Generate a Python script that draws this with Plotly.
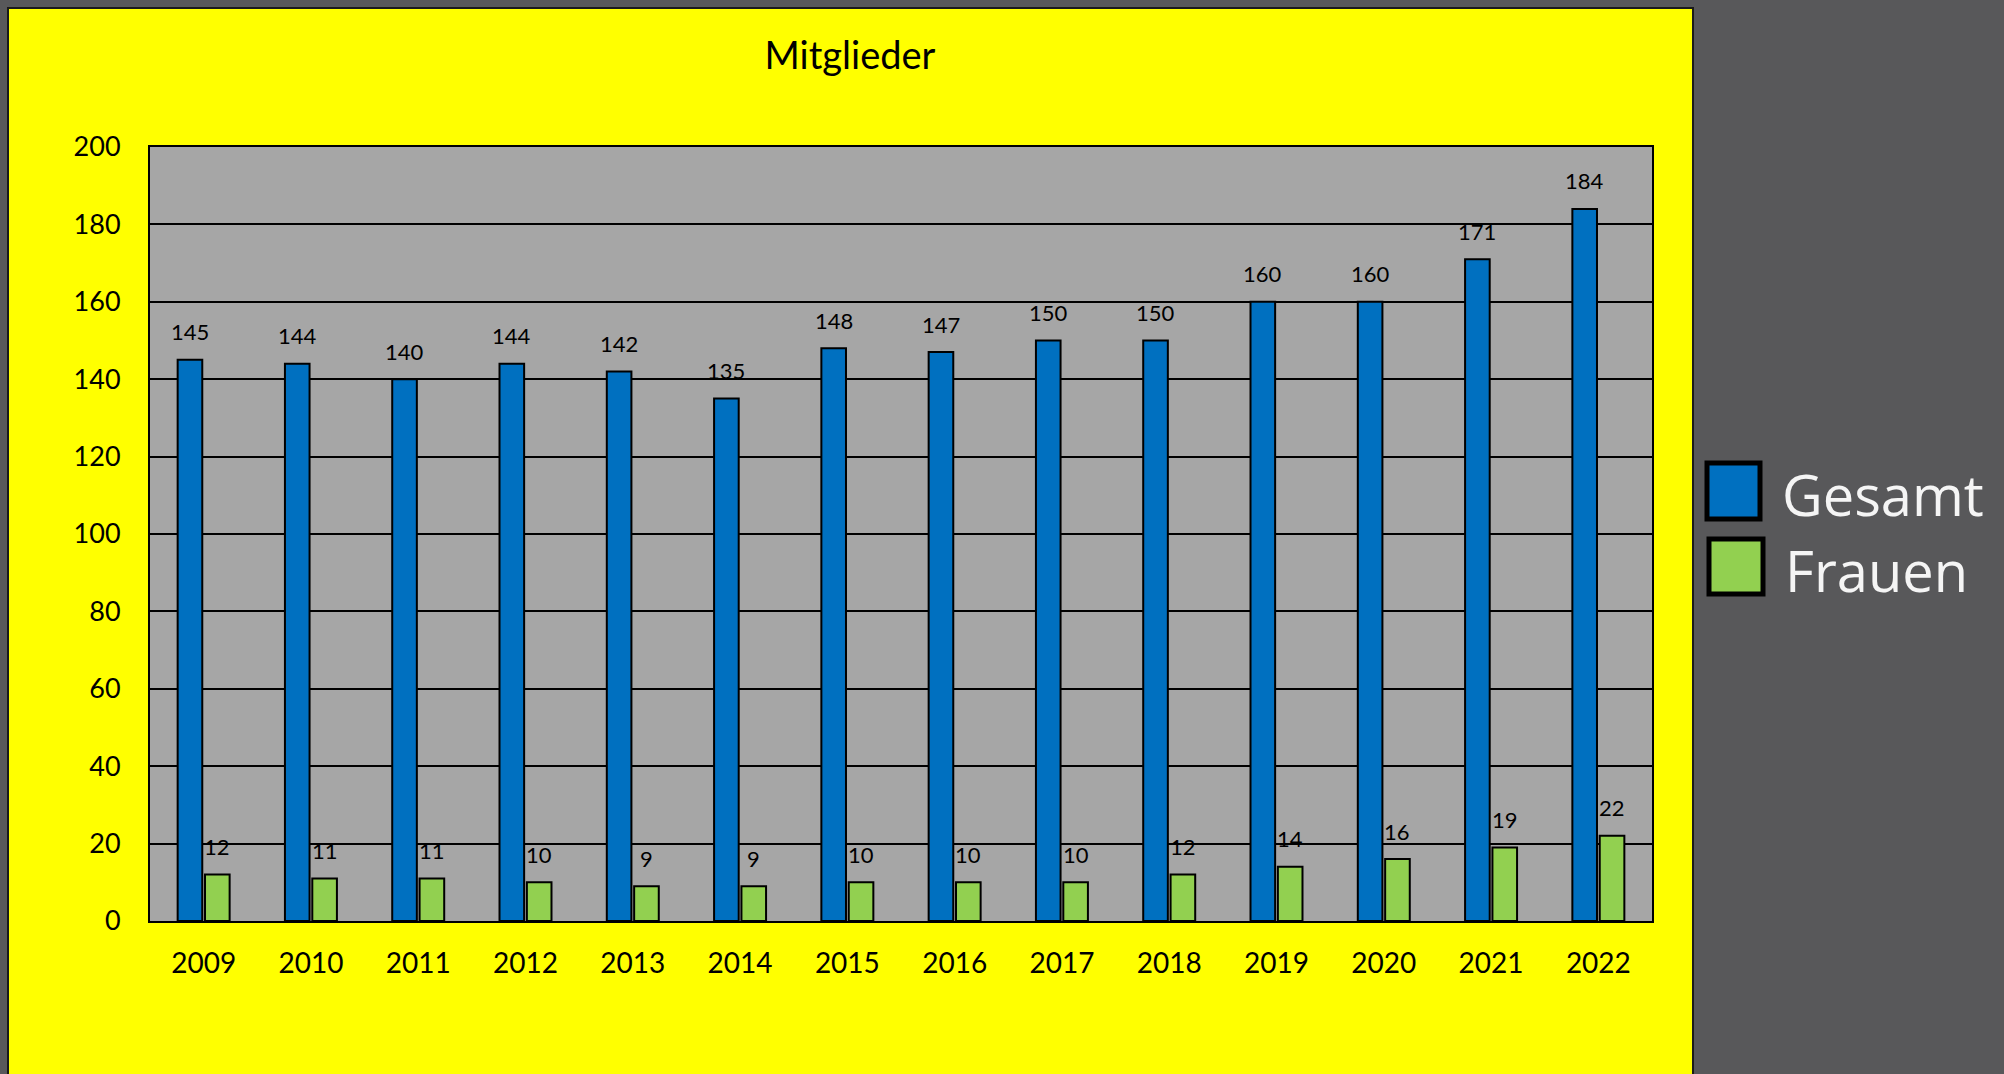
import plotly.graph_objects as go

years = ["2009", "2010", "2011", "2012", "2013", "2014", "2015",
         "2016", "2017", "2018", "2019", "2020", "2021", "2022"]
gesamt = [145, 144, 140, 144, 142, 135, 148, 147, 150, 150, 160, 160, 171, 184]
frauen = [12, 11, 11, 10, 9, 9, 10, 10, 10, 12, 14, 16, 19, 22]
series_names = ["Gesamt", "Frauen"]
series_colors = ["#0070c0", "#92d050"]
y_ticks = list(range(0, 201, 20))

W, H = 2004, 1074
L, R, T, B = 150, 352, 147, 153
pw, ph = W - L - R, H - T - B
BARGAP, GROUPGAP = 0.49, 0.1

def px_x(p):
    return (p - L) / pw

def px_y(p):
    return (H - B - p) / ph

FONT = "Lato"

fig = go.Figure()
series = [gesamt, frauen]
n_cat = len(years)
slot = pw / n_cat * (1 - BARGAP) / len(series)
annotations = []
for i, (name, vals, col) in enumerate(zip(series_names, series, series_colors)):
    fig.add_trace(go.Bar(
        x=years, y=vals, name=name,
        marker=dict(color=col, line=dict(color="black", width=2)),
        showlegend=False,
    ))
    shift = (i - (len(series) - 1) / 2) * slot
    for k, yv in enumerate(vals):
        # category axis: annotation x given as category index
        annotations.append(dict(x=k, y=yv, xref="x", yref="y", text=str(yv),
                                showarrow=False, xshift=shift, yshift=28,
                                xanchor="center", yanchor="middle",
                                font=dict(family=FONT, size=22, color="black")))

shapes = [
    dict(type="rect", xref="paper", yref="paper", layer="below",
         x0=px_x(8), x1=px_x(1693), y0=px_y(1090), y1=px_y(8),
         fillcolor="#ffff00", line=dict(color="#1a1a1a", width=2)),
    dict(type="rect", xref="paper", yref="paper", layer="below",
         x0=0, x1=1, y0=0, y1=1, fillcolor="#a6a6a6", line=dict(width=0)),
]
legend_rows = [(463, 519, 1707, 1760), (539, 594, 1709, 1763)]
for (ya, yb, xa, xb), name, col in zip(legend_rows, series_names, series_colors):
    shapes.append(dict(type="rect", xref="paper", yref="paper",
                       x0=px_x(xa), x1=px_x(xb), y0=px_y(yb), y1=px_y(ya),
                       fillcolor=col, line=dict(color="black", width=5)))
    annotations.append(dict(xref="paper", yref="paper", x=px_x(xb + 20),
                            y=px_y((ya + yb) / 2 + 3), text=name, showarrow=False,
                            xanchor="left", yanchor="middle",
                            font=dict(family="Open Sans", size=56, color="#f5f5f5")))

fig.update_layout(
    width=W, height=H,
    margin=dict(l=L, r=R, t=T, b=B),
    paper_bgcolor="#58585a",
    plot_bgcolor="#a6a6a6",
    barmode="group", bargap=BARGAP, bargroupgap=GROUPGAP,
    title=dict(text="Mitglieder", x=850 / W, xref="container", y=1 - 56 / H,
               xanchor="center", yanchor="middle",
               font=dict(family=FONT, size=38, color="black")),
    shapes=shapes, annotations=annotations,
    xaxis=dict(type="category", range=[-0.5, n_cat - 0.5], showgrid=False,
               showline=True, linecolor="black",
               linewidth=2, mirror=True, ticks="", ticklabelstandoff=16,
               tickfont=dict(family=FONT, size=28, color="black")),
    yaxis=dict(range=[0, 200], tickvals=y_ticks, showgrid=True,
               gridcolor="black", gridwidth=1.5, showline=True, linecolor="black",
               linewidth=2, mirror=True, ticks="", zeroline=False,
               ticklabelstandoff=22,
               tickfont=dict(family=FONT, size=27, color="black")),
)

fig.write_html("out.html", config={"displayModeBar": False},
               post_script="document.body.style.margin='0';"
                           "document.body.style.background='#58585a';")
